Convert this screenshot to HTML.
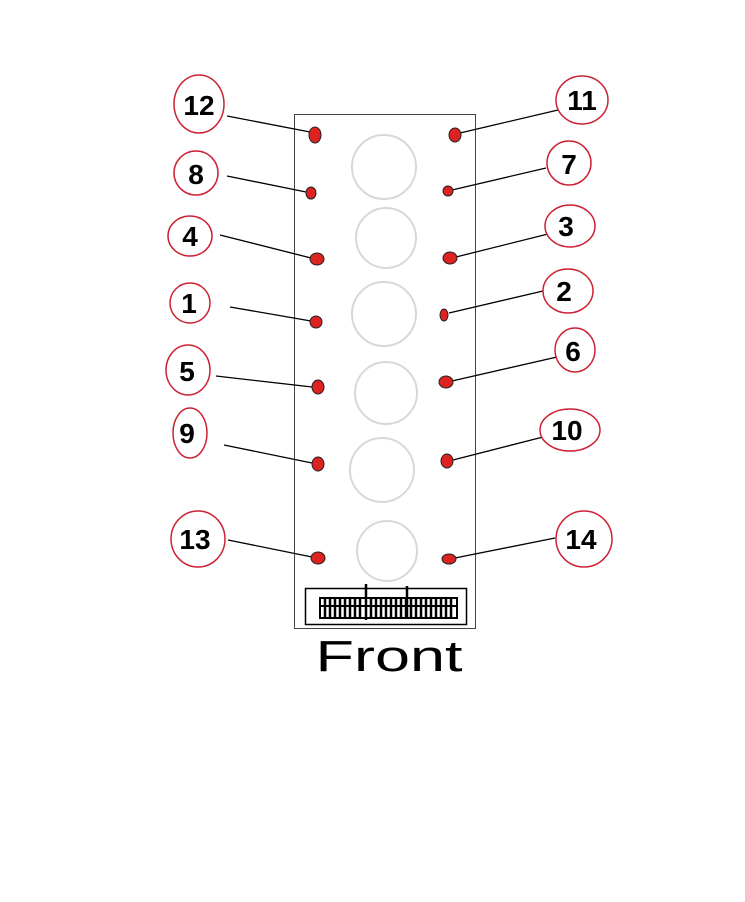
<!DOCTYPE html>
<html><head><meta charset="utf-8"><style>
html,body{margin:0;padding:0;background:#fff;width:745px;height:902px;overflow:hidden}
svg text{font-family:"Liberation Sans",sans-serif;font-size:28px;fill:#000;text-anchor:middle;font-weight:bold}
</style></head><body>
<svg width="745" height="902" viewBox="0 0 745 902">
<rect x="294.5" y="114.5" width="181" height="514" fill="none" stroke="#444" stroke-width="1"/>
<g fill="none" stroke="#d8d8d8" stroke-width="2">
<circle cx="384" cy="167" r="32"/><circle cx="386" cy="238" r="30"/><circle cx="384" cy="314" r="32"/>
<circle cx="386" cy="393" r="31"/><circle cx="382" cy="470" r="32"/><circle cx="387" cy="551" r="30"/>
</g>
<rect x="305.5" y="588.5" width="161" height="36" fill="none" stroke="#000" stroke-width="1.5"/>
<rect x="320" y="598" width="137" height="20" fill="none" stroke="#000" stroke-width="2"/>
<line x1="320" y1="606" x2="457" y2="606" stroke="#000" stroke-width="2"/>
<g stroke="#000" stroke-width="2.5">
<line x1="325" y1="598" x2="325" y2="618"/><line x1="330" y1="598" x2="330" y2="618"/><line x1="335" y1="598" x2="335" y2="618"/><line x1="340" y1="598" x2="340" y2="618"/><line x1="345" y1="598" x2="345" y2="618"/><line x1="350" y1="598" x2="350" y2="618"/><line x1="355" y1="598" x2="355" y2="618"/><line x1="360" y1="598" x2="360" y2="618"/><line x1="366" y1="584" x2="366" y2="620"/><line x1="371" y1="598" x2="371" y2="618"/><line x1="376" y1="598" x2="376" y2="618"/><line x1="381" y1="598" x2="381" y2="618"/><line x1="386" y1="598" x2="386" y2="618"/><line x1="391" y1="598" x2="391" y2="618"/><line x1="396" y1="598" x2="396" y2="618"/><line x1="401" y1="598" x2="401" y2="618"/><line x1="406" y1="598" x2="406" y2="618"/><line x1="411" y1="598" x2="411" y2="618"/><line x1="407" y1="586" x2="407" y2="618"/><line x1="416" y1="598" x2="416" y2="618"/><line x1="421" y1="598" x2="421" y2="618"/><line x1="426" y1="598" x2="426" y2="618"/><line x1="431" y1="598" x2="431" y2="618"/><line x1="436" y1="598" x2="436" y2="618"/><line x1="441" y1="598" x2="441" y2="618"/><line x1="446" y1="598" x2="446" y2="618"/><line x1="451" y1="598" x2="451" y2="618"/>
</g>
<g stroke="#000" stroke-width="1.3">
<line x1="227" y1="116" x2="310" y2="132"/><line x1="227" y1="176" x2="306" y2="192"/>
<line x1="220" y1="235" x2="311" y2="258"/><line x1="230" y1="307" x2="311" y2="321"/>
<line x1="216" y1="376" x2="312" y2="387"/><line x1="224" y1="445" x2="312" y2="463"/>
<line x1="228" y1="540" x2="312" y2="557"/>
<line x1="558" y1="110" x2="460" y2="133"/><line x1="546" y1="168" x2="452" y2="190"/>
<line x1="548" y1="234" x2="456" y2="257"/><line x1="543" y1="291" x2="449" y2="313"/>
<line x1="557" y1="357" x2="452" y2="381"/><line x1="543" y1="437" x2="453" y2="460"/>
<line x1="555" y1="538" x2="455" y2="558"/>
</g>
<g fill="#dd2222" stroke="#222" stroke-width="1">
<ellipse cx="315" cy="135" rx="6" ry="8"/><ellipse cx="455" cy="135" rx="6" ry="7"/>
<ellipse cx="311" cy="193" rx="5" ry="6"/><ellipse cx="448" cy="191" rx="5" ry="5"/>
<ellipse cx="317" cy="259" rx="7" ry="6"/><ellipse cx="450" cy="258" rx="7" ry="6"/>
<ellipse cx="316" cy="322" rx="6" ry="6"/><ellipse cx="444" cy="315" rx="4" ry="6"/>
<ellipse cx="318" cy="387" rx="6" ry="7"/><ellipse cx="446" cy="382" rx="7" ry="6"/>
<ellipse cx="318" cy="464" rx="6" ry="7"/><ellipse cx="447" cy="461" rx="6" ry="7"/>
<ellipse cx="318" cy="558" rx="7" ry="6"/><ellipse cx="449" cy="559" rx="7" ry="5"/>
</g>
<g fill="#fff" stroke="#cc2233" stroke-width="1.5">
<ellipse cx="199" cy="104" rx="25" ry="29"/><ellipse cx="582" cy="100" rx="26" ry="24"/>
<ellipse cx="196" cy="173" rx="22" ry="22"/><ellipse cx="569" cy="163" rx="22" ry="22"/>
<ellipse cx="190" cy="236" rx="22" ry="20"/><ellipse cx="570" cy="226" rx="25" ry="21"/>
<ellipse cx="190" cy="303" rx="20" ry="20"/><ellipse cx="568" cy="291" rx="25" ry="22"/>
<ellipse cx="188" cy="370" rx="22" ry="25"/><ellipse cx="575" cy="350" rx="20" ry="22"/>
<ellipse cx="190" cy="433" rx="17" ry="25"/><ellipse cx="570" cy="430" rx="30" ry="21"/>
<ellipse cx="198" cy="539" rx="27" ry="28"/><ellipse cx="584" cy="539" rx="28" ry="28"/>
</g>
<text x="199" y="115">12</text><text x="582" y="110">11</text>
<text x="196" y="184">8</text><text x="569" y="174">7</text>
<text x="190" y="246">4</text><text x="566" y="236">3</text>
<text x="189" y="313">1</text><text x="564" y="301">2</text>
<text x="187" y="381">5</text><text x="573" y="361">6</text>
<text x="187" y="443">9</text><text x="567" y="440">10</text>
<text x="195" y="549">13</text><text x="581" y="549">14</text>
<text x="389" y="671" textLength="147" lengthAdjust="spacingAndGlyphs" style="font-size:44px;font-weight:normal">Front</text>
</svg>
</body></html>
